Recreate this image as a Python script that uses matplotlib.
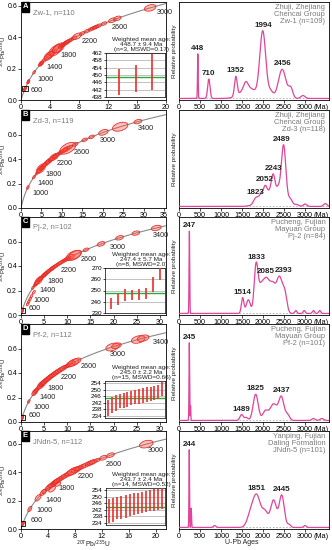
import numpy as np
import matplotlib
matplotlib.use("Agg")
import matplotlib.pyplot as plt

plt.rcParams.update({
    "font.family": ["Liberation Sans Narrow", "Liberation Sans", "DejaVu Sans"],
    "font.size": 5,
    "mathtext.fontset": "custom",
    "mathtext.rm": "Liberation Sans Narrow",
    "mathtext.it": "Liberation Sans Narrow:italic",
    "axes.linewidth": 0.6,
    "xtick.major.width": 0.5,
    "ytick.major.width": 0.5,
    "xtick.major.size": 2,
    "ytick.major.size": 2,
    "xtick.major.pad": 0.8,
    "ytick.major.pad": 0.8,
})

# ---------------- data ----------------
letters = ["A", "B", "C", "D", "E"]
left_titles = ["Zw-1, n=110", "Zd-3, n=119", "Pj-2, n=102", "Pf-2, n=112", "JNdn-5, n=112"]
right_titles = [
    "Zhuji, Zhejiang\nChencai Group\nZw-1 (n=109)",
    "Zhuji, Zhejiang\nChencai Group\nZd-3 (n=118)",
    "Pucheng, Fujian\nMayuan Group\nPj-2 (n=84)",
    "Pucheng, Fujian\nMayuan Group\nPf-2 (n=101)",
    "Yanping, Fujian\nDaling Formation\nJNdn-5 (n=101)",
]
conc_xlim = [(0, 20), (0, 35.5), (0, 31.3), (0, 31.3), (0, 21.5)]
conc_ylim = [(0, 0.625), (0, 0.8), (0, 0.8), (0, 0.8), (0, 0.69)]
conc_xticks = [np.arange(0, 21, 4), np.arange(0, 36, 5), np.arange(0, 31, 5),
               np.arange(0, 31, 5), np.arange(0, 21, 4)]
conc_labels = [
    [600, 1000, 1400, 1800, 2200, 2600, 3000],
    [1000, 1400, 1800, 2200, 2600, 3000, 3400],
    [600, 1000, 1400, 1800, 2200, 2600, 3000, 3400],
    [600, 1000, 1400, 1800, 2200, 2600, 3000, 3400],
    [600, 1000, 1400, 1800, 2200, 2600, 3000],
]
young_box = [450, None, 250, 245, 244]

# grain ages (Ma) and ellipse semi-major size (px)
zw_ages = [440, 448, 455, 700, 712, 720, 1050, 1340, 1352, 1360, 1380, 1450, 1560, 1600,
           1650, 1720, 1780, 1820, 1850, 1900, 1930, 1950, 1970, 1985, 1994, 2000, 2010,
           2020, 2040, 2060, 2100, 2150, 2200, 2280, 2350, 2400, 2430, 2456, 2470, 2500,
           2560, 2650, 2700, 2980]
zw_size = [2, 2, 2, 2, 2, 2, 2, 3, 3, 2, 2, 3, 4, 6, 5, 4, 8, 6, 7, 3, 3, 3, 3, 3, 3, 3, 3,
           3, 3, 3, 3, 3, 5, 3, 3, 3, 3, 3, 3, 3, 3, 4, 4, 6]
zd_ages = [1000, 1450, 1600, 1700, 1750, 1780, 1800, 1823, 1850, 1900, 1950, 2000, 2050,
           2080, 2100, 2150, 2200, 2243, 2260, 2300, 2350, 2400, 2430, 2460, 2480, 2489,
           2500, 2510, 2530, 2560, 2600, 2700, 2850, 2950, 3100, 3280, 3440]
zd_size = [2, 2, 2, 3, 3, 4, 6, 3, 3, 3, 3, 4, 3, 3, 4, 3, 4, 5, 3, 3, 3, 3, 3, 3, 3, 3,
           3, 3, 4, 9, 3, 3, 3, 3, 5, 8, 4]
pj_ages = [240, 245, 247, 250, 255, 1300, 1450, 1500, 1514, 1550, 1600, 1650, 1700, 1750,
           1800, 1820, 1833, 1850, 1880, 1920, 1960, 2000, 2050, 2085, 2100, 2150, 2200,
           2250, 2300, 2350, 2393, 2420, 2450, 2500, 2550, 2580, 2750, 2950, 3150, 3300,
           3460]
pj_size = [2, 2, 2, 2, 2, 2, 3, 3, 3, 3, 5, 3, 3, 3, 3, 3, 3, 3, 3, 3, 3, 3, 3, 3, 3, 3, 3,
           3, 3, 3, 3, 3, 3, 4, 8, 7, 3, 4, 4, 4, 5]
pf_ages = [240, 243, 245, 247, 250, 1000, 1400, 1420, 1489, 1550, 1650, 1700, 1750, 1780,
           1800, 1825, 1850, 1900, 1950, 2000, 2050, 2100, 2150, 2200, 2250, 2300, 2350,
           2400, 2437, 2460, 2500, 2550, 2600, 3080, 3120, 3320, 3360]
pf_size = [2, 2, 2, 2, 2, 2, 4, 3, 3, 3, 3, 5, 4, 4, 4, 4, 4, 4, 4, 4, 4, 4, 4, 4, 4, 4, 4,
           3, 3, 3, 5, 6, 5, 7, 5, 7, 6]
jn_ages = [240, 244, 248, 850, 1280, 1480, 1520, 1650, 1700, 1750, 1800, 1830, 1851, 1870,
           1900, 1950, 2000, 2050, 2100, 2150, 2200, 2250, 2280, 2300, 2350, 2400, 2445,
           2470, 2500, 2550, 2620, 2700, 3020]
jn_size = [2, 2, 2, 3, 4, 4, 3, 4, 4, 4, 4, 4, 4, 4, 4, 4, 4, 4, 4, 5, 6, 5, 4, 4, 4, 4, 4,
           4, 4, 3, 4, 4, 7]
# discordant grains: age, size, fractional offset below concordia
pj_disc = [(900, 2, 0.4), (1000, 2, 0.35), (1100, 2, 0.3), (1200, 2, 0.25), (1350, 2, 0.2)]
jn_disc = [(1750, 4, 0.1), (1900, 3, 0.08)]
grains = [(zw_ages, zw_size, []), (zd_ages, zd_size, []), (pj_ages, pj_size, pj_disc),
          (pf_ages, pf_size, []), (jn_ages, jn_size, jn_disc)]

# weighted-mean insets (None for B)
wm_text = ["Weighted mean age:\n448.7 \u00b1 9.4 Ma\n(n=3, MSWD=0.17)", None,
           "Weighted mean age:\n247.4 \u00b1 5.7 Ma\n(n=8, MSWD=2.0)",
           "Weighted mean age:\n245.0 \u00b1 2.2 Ma\n(n=15, MSWD=0.66)",
           "Weighted mean age:\n243.7 \u00b1 2.4 Ma\n(n=14, MSWD=0.52)"]
wm_mean = [448.7, None, 247.7, 245.0, 243.7]
wm_vals = [[446.1, 448.1, 451.7], None,
           [238.5, 242.0, 246.0, 245.8, 246.2, 247.4, 255.5, 265.0],
           [238.5, 240.5, 242.0, 243.0, 243.5, 244.0, 245.0, 245.5, 246.0, 246.5, 247.0,
            247.5, 248.0, 248.5, 250.5],
           [241.0, 242.0, 243.0, 243.5, 244.0, 245.0, 245.5, 246.0, 246.5, 247.0, 247.5,
            248.0, 248.5, 249.0]]
wm_errs = [[7.2, 7.3, 9.7], None,
           [4.7, 4.7, 5.2, 4.3, 4.8, 5.2, 6.5, 6.0],
           [5.0, 5.0, 5.0, 4.5, 4.5, 4.5, 4.5, 4.5, 4.5, 4.5, 4.5, 4.5, 4.5, 4.5, 4.5],
           [7.5, 7.5, 7.0, 7.0, 7.0, 7.0, 7.0, 6.5, 6.5, 6.5, 6.5, 6.5, 6.5, 6.5]]
wm_ylim = [(438, 462), None, (230, 270), (232.5, 255.5), (232.5, 255.5)]
wm_ticks = [np.arange(438, 463, 4), None, np.arange(230, 271, 10),
            np.arange(234, 255, 4), np.arange(234, 255, 4)]
wm_box = [(0.586, 0.03, 0.41, 0.45), None, (0.58, 0.02, 0.415, 0.46),
          (0.58, 0.04, 0.415, 0.38), (0.586, 0.04, 0.41, 0.38)]

# probability density components: age (Ma), height, sigma (Ma)
pdp_zw = [(448, 0.46, 8), (710, 0.2, 28), (1352, 0.2, 32), (1650, 0.11, 180),
          (1590, 0.07, 50), (1994, 0.68, 70), (2180, 0.07, 60), (2456, 0.3, 90),
          (2660, 0.1, 50), (2950, 0.03, 50)]
pdp_zd = [(2150, 0.15, 200), (1823, 0.05, 50), (1950, 0.04, 50), (2052, 0.08, 40),
          (2243, 0.2, 45), (2360, 0.09, 40), (2489, 0.6, 55), (2650, 0.07, 50),
          (2800, 0.02, 50), (3000, 0.025, 40), (3480, 0.03, 40)]
pdp_pj = [(247, 0.85, 8), (1514, 0.16, 30), (1650, 0.14, 50), (1833, 0.46, 45),
          (1950, 0.26, 70), (2085, 0.3, 70), (2230, 0.27, 70), (2393, 0.36, 70),
          (2520, 0.18, 50), (2780, 0.03, 25), (2980, 0.03, 25), (3200, 0.03, 25),
          (3350, 0.03, 25)]
pdp_pf = [(245, 0.8, 7), (275, 0.15, 6), (1489, 0.06, 40), (1600, 0.03, 40),
          (1825, 0.27, 60), (2050, 0.09, 60), (2250, 0.17, 90), (2437, 0.23, 60),
          (2580, 0.06, 50), (3200, 0.02, 40), (3400, 0.02, 40)]
pdp_jn = [(244, 0.8, 7), (290, 0.2, 7), (850, 0.02, 30), (1700, 0.12, 80),
          (1851, 0.32, 90), (2050, 0.15, 70), (2250, 0.28, 70), (2445, 0.33, 60),
          (2620, 0.03, 40), (3000, 0.02, 30)]
pdps = [pdp_zw, pdp_zd, pdp_pj, pdp_pf, pdp_jn]
peak_labels = [[448, 710, 1352, 1994, 2456], [1823, 2052, 2243, 2489],
               [247, 1514, 1833, 2085, 2393], [245, 1489, 1825, 2437], [244, 1851, 2445]]
# horizontal nudges of peak labels (Ma) where labels would collide
peak_dx = [[0, 0, 0, 20, 0], [0, 0, 0, -40], [0, 0, 0, -30, 90], [0, 0, 0, 0], [0, 0, 0]]

# ---------------- helpers ----------------
L238, L235 = 1.55125e-4, 9.8485e-4


def conc(t):
    return np.exp(L235 * t) - 1, np.exp(L238 * t) - 1


RED = "#e8302a"
PINK = "#e0449b"
TXT = "#222222"
LIGHT = "#7a7a7a"

fig = plt.figure(figsize=(3.32, 5.5), dpi=100)
W, H = 332, 550
rows = [(2, 100), (110, 208), (217, 315), (324, 422), (431, 529)]
LX, LW = 21, 145
RX, RW = 179, 150


def ellipse(ax, t, s, d, xl, yl, h_px):
    x0, y0 = conc(t)
    x1, y1 = conc(t + 5)
    sx = LW / (xl[1] - xl[0])
    sy = h_px / (yl[1] - yl[0])
    ang = np.arctan2((y1 - y0) * sy, (x1 - x0) * sx)
    y0 = y0 * (1 - d)
    th = np.linspace(0, 2 * np.pi, 40)
    a, b = s, s * 0.5
    px = a * np.cos(th) * np.cos(ang) - b * np.sin(th) * np.sin(ang)
    py = a * np.cos(th) * np.sin(ang) + b * np.sin(th) * np.cos(ang)
    ax.fill(x0 + px / sx, y0 + py / sy, fc=(1.0, 0.3, 0.25, 0.35), ec=RED, lw=0.6, zorder=3)


for i in range(5):
    top, bot = rows[i]
    h = bot - top
    # ---------- concordia panel ----------
    ax = fig.add_axes([LX / W, 1 - bot / H, LW / W, h / H])
    xl, yl = conc_xlim[i], conc_ylim[i]
    tt = np.linspace(0, 4000, 400)
    cx, cy = conc(tt)
    ax.plot(cx, cy, color="#8a8a8a", lw=0.8, zorder=2)
    ages, sizes, disc = grains[i]
    for t, s in zip(ages, sizes):
        ellipse(ax, t, s, 0, xl, yl, h)
    for t, s, d in disc:
        ellipse(ax, t, s, d, xl, yl, h)
    for t in conc_labels[i]:
        x, y = conc(t)
        if x < xl[1]:
            ax.annotate(str(t), (x, y), xytext=(3, -1.5), textcoords="offset points",
                        ha="left", va="top", fontsize=5.2, color=TXT, zorder=5)
    if young_box[i] is not None:
        bx, by = conc(young_box[i])
        dx = 2.6 * (xl[1] - xl[0]) / LW
        dy = 2.6 * (yl[1] - yl[0]) / h
        ax.add_patch(plt.Rectangle((bx - dx, by - dy), 2 * dx, 2 * dy, fill=False,
                                   ec="black", lw=0.6, zorder=4))
    ax.set_xlim(*xl)
    ax.set_ylim(*yl)
    ax.set_xticks(conc_xticks[i])
    ax.set_yticks([0, 0.2, 0.4, 0.6])
    ax.set_yticklabels(["0.0", "0.2", "0.4", "0.6"])
    ax.tick_params(labelsize=5.2)
    ax.tick_params(axis="y", labelsize=5.0)
    ax.set_ylabel("$^{206}$Pb/$^{238}$U", fontsize=4.3, color=TXT)
    ax.yaxis.set_label_coords(-0.088, 0.5)
    ax.text(0.012, 0.985, letters[i], transform=ax.transAxes, ha="left", va="top",
            color="white", fontweight="bold", fontsize=5.5,
            bbox=dict(boxstyle="square,pad=0.15", fc="black", ec="black"))
    ax.text(0.085, 0.93, left_titles[i], transform=ax.transAxes, ha="left", va="top",
            color=LIGHT, fontsize=5.4)
    if i == 4:
        ax.set_xlabel("$^{207}$Pb/$^{235}$U", fontsize=4.8, color=TXT)
        ax.xaxis.set_label_coords(0.5, -0.1)

    # ---------- weighted mean inset ----------
    if wm_vals[i] is not None:
        ins = ax.inset_axes(wm_box[i])
        n = len(wm_vals[i])
        xs = np.arange(1, n + 1)
        for yv in wm_ticks[i]:
            ins.axhline(yv, color="#aaaaaa", lw=0.5, zorder=1)
        ins.vlines(xs, np.array(wm_vals[i]) - np.array(wm_errs[i]),
                   np.array(wm_vals[i]) + np.array(wm_errs[i]), color=RED, lw=1.2, zorder=3)
        ins.axhline(wm_mean[i], color="#2eaa3c", lw=1.0, zorder=2)
        ins.set_xlim(0.2, n + 0.8)
        ins.set_ylim(*wm_ylim[i])
        ins.set_yticks(wm_ticks[i])
        ins.set_xticks([])
        ins.tick_params(labelsize=4.6, length=1.5, pad=0.8)
        for sp in ins.spines.values():
            sp.set_linewidth(0.5)
        ins.text(0.6, 1.02, wm_text[i], transform=ins.transAxes, ha="center", va="bottom",
                 fontsize=4.6, color=TXT, linespacing=0.95)

    # ---------- probability density panel ----------
    rx = fig.add_axes([RX / W, 1 - bot / H, RW / W, h / H])
    ag = np.linspace(0, 3570, 3000)
    pd = np.zeros_like(ag)
    for c, a, s in pdps[i]:
        pd += a * np.exp(-0.5 * ((ag - c) / s) ** 2)
    pd += 0.006
    if i == 4:
        m = (ag > 225) & (ag < 310)
        rx.fill_between(ag[m], 0, pd[m], color=PINK, alpha=0.2, lw=0)
    rx.axhline(0.006, color="#aaaaaa", lw=0.6, ls=(0, (2, 2)), zorder=1)
    rx.plot(ag, pd, color=PINK, lw=0.9, zorder=3)
    for p, dxp in zip(peak_labels[i], peak_dx[i]):
        yv = np.interp(p, ag, pd)
        rx.text(p + dxp, yv + 0.02, str(p), ha="center", va="bottom", fontsize=5.8,
                fontweight="bold", color=TXT, zorder=5)
    rx.set_xlim(0, 3570)
    rx.set_ylim(-0.01, 1.0)
    rx.set_xticks(np.arange(0, 3001, 500))
    rx.set_yticks([])
    rx.tick_params(labelsize=5.2)
    rx.annotate("(Ma)", (3390, 0), xycoords=("data", "axes fraction"), xytext=(0, -2.8),
                textcoords="offset points", ha="center", va="top", fontsize=5.2)
    rx.set_ylabel("Relative probability", fontsize=4.6, color=TXT)
    rx.yaxis.set_label_coords(-0.012, 0.5)
    rx.text(0.975, 0.975, right_titles[i], transform=rx.transAxes, ha="right", va="top",
            color=LIGHT, fontsize=5.4, linespacing=1.0)
    if i == 4:
        rx.set_xlabel("U-Pb Ages", fontsize=5, color=TXT)
        rx.xaxis.set_label_coords(0.42, -0.1)

fig.savefig("out.png", dpi=100)
